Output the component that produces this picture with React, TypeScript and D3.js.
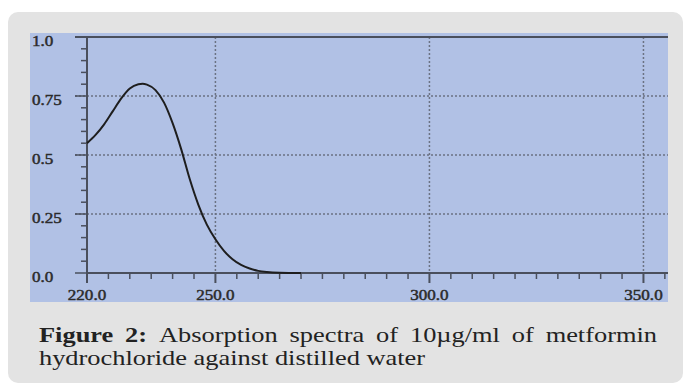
import React, { useEffect, useRef } from "react";
import * as d3 from "d3";

// absorbance spectrum
const wavelengths = [220, 222, 224, 226, 228, 230, 232, 233, 234, 236, 238, 240, 242, 244, 246, 248, 250, 252, 254, 256, 258, 260, 262, 265, 270];
const absorbance = [0.55, 0.585, 0.63, 0.685, 0.74, 0.782, 0.8, 0.802, 0.798, 0.775, 0.722, 0.635, 0.525, 0.398, 0.29, 0.205, 0.143, 0.094, 0.058, 0.034, 0.019, 0.009, 0.004, 0.001, 0];

const xMajor = [220, 250, 300, 350];
const xLabels = ["220.0", "250.0", "300.0", "350.0"];
const yMajor = [0, 0.25, 0.5, 0.75, 1];
const yLabels = ["0.0", "0.25", "0.5", "0.75", "1.0"];

const captionBold = "Figure 2:";
const captionLine1 = "Absorption spectra of 10µg/ml of metformin";
const captionLine2 = "hydrochloride against distilled water";

const App = () => {
    const ref = useRef<SVGSVGElement>(null);

    useEffect(() => {
        document.body.style.margin = "0";
        const svg = d3.select(ref.current).html("");

        svg.append("rect").attr("width", 684).attr("height", 385).attr("fill", "#fff");
        svg.append("rect")
            .attr("x", 8).attr("y", 12).attr("width", 675).attr("height", 371)
            .attr("rx", 10).attr("fill", "#e3e3e3");
        svg.append("rect")
            .attr("x", 30).attr("y", 33).attr("width", 638).attr("height", 269)
            .attr("fill", "#b1c1e5");

        const x = d3.scaleLinear().domain([220, 355.5]).range([87, 667]);
        const y = d3.scaleLinear().domain([0, 1]).range([273, 37]);

        const axisColor = "#4a4f5c";
        const gridColor = "#6b7283";
        const tickFont = "Liberation Serif";
        const sx = 1.22; // horizontal stretch to mimic the wide original face

        // grid
        const g = svg.append("g");
        g.selectAll(".vg").data(xMajor.slice(1)).join("line")
            .attr("x1", d => x(d)).attr("x2", d => x(d))
            .attr("y1", y(1)).attr("y2", y(0))
            .attr("stroke", gridColor).attr("stroke-width", 1.5).attr("stroke-dasharray", "2,2");
        g.selectAll(".hg").data(yMajor.slice(1, 4)).join("line")
            .attr("x1", 75).attr("x2", 668)
            .attr("y1", d => y(d)).attr("y2", d => y(d))
            .attr("stroke", gridColor).attr("stroke-width", 1.5).attr("stroke-dasharray", "2,2");

        // top frame line
        svg.append("line").attr("x1", 75).attr("x2", 668).attr("y1", y(1)).attr("y2", y(1))
            .attr("stroke", axisColor).attr("stroke-width", 2);

        // y axis
        svg.append("line").attr("x1", x(220)).attr("x2", x(220)).attr("y1", y(1)).attr("y2", y(0))
            .attr("stroke", axisColor).attr("stroke-width", 2);
        const yMinor = d3.range(0, 1.001, 0.05);
        svg.append("g").selectAll("line").data(yMinor).join("line")
            .attr("x1", (d, i) => (i % 5 === 0 ? 75 : 81)).attr("x2", x(220))
            .attr("y1", d => y(d)).attr("y2", d => y(d))
            .attr("stroke", axisColor).attr("stroke-width", 1.5);
        svg.append("g").selectAll("text").data(yMajor).join("text")
            .attr("transform", d => `translate(32,${y(d) + 8.5}) scale(${sx},1)`)
            .attr("font-family", tickFont).attr("font-size", 14)
            .attr("fill", "#2b2b2b").attr("stroke", "#2b2b2b").attr("stroke-width", 0.45)
            .text((d, i) => yLabels[i]);

        // x axis
        svg.append("line").attr("x1", x(220)).attr("x2", 668).attr("y1", y(0)).attr("y2", y(0))
            .attr("stroke", axisColor).attr("stroke-width", 2);
        const xMinor = d3.range(220, 356, 5);
        svg.append("g").selectAll("line").data(xMinor).join("line")
            .attr("x1", d => x(d)).attr("x2", d => x(d))
            .attr("y1", y(0)).attr("y2", d => (xMajor.includes(d) ? y(0) + 10 : y(0) + 6))
            .attr("stroke", axisColor).attr("stroke-width", d => (xMajor.includes(d) ? 2 : 1.5));
        svg.append("g").selectAll("text").data(xMajor).join("text")
            .attr("transform", d => `translate(${Math.min(x(d), 647)},300) scale(${sx},1)`)
            .attr("text-anchor", "middle")
            .attr("font-family", tickFont).attr("font-size", 14)
            .attr("fill", "#2b2b2b").attr("stroke", "#2b2b2b").attr("stroke-width", 0.45)
            .text((d, i) => xLabels[i]);

        // spectrum
        const line = d3.line<number>()
            .x(d => x(d))
            .y((d, i) => y(absorbance[i]))
            .curve(d3.curveMonotoneX);
        svg.append("path").datum(wavelengths)
            .attr("d", line)
            .attr("fill", "none").attr("stroke", "#1e1e1e").attr("stroke-width", 2);

        // caption, first line justified between 39 and 657
        const cs = 1.2;
        const cap = svg.append("g")
            .attr("transform", `scale(${cs},1)`)
            .attr("font-family", "Liberation Serif").attr("font-size", 22).attr("fill", "#222");
        const words = [...captionBold.split(" "), ...captionLine1.split(" ")];
        const nodes = words.map((w, i) =>
            cap.append("text").attr("y", 342).attr("font-weight", i < 2 ? "bold" : "normal").text(w)
        );
        const widths = nodes.map(n => (n.node() as SVGTextElement).getComputedTextLength());
        const left = 39 / cs;
        const right = 657 / cs;
        const gap = (right - left - d3.sum(widths)) / (words.length - 1);
        let cx = left;
        nodes.forEach((n, i) => {
            n.attr("x", cx);
            cx += widths[i] + gap;
        });
        cap.append("text").attr("x", left).attr("y", 365).text(captionLine2);
    }, []);

    return <svg ref={ref} width={684} height={385} style={{ display: "block" }} />;
};

export default App;
